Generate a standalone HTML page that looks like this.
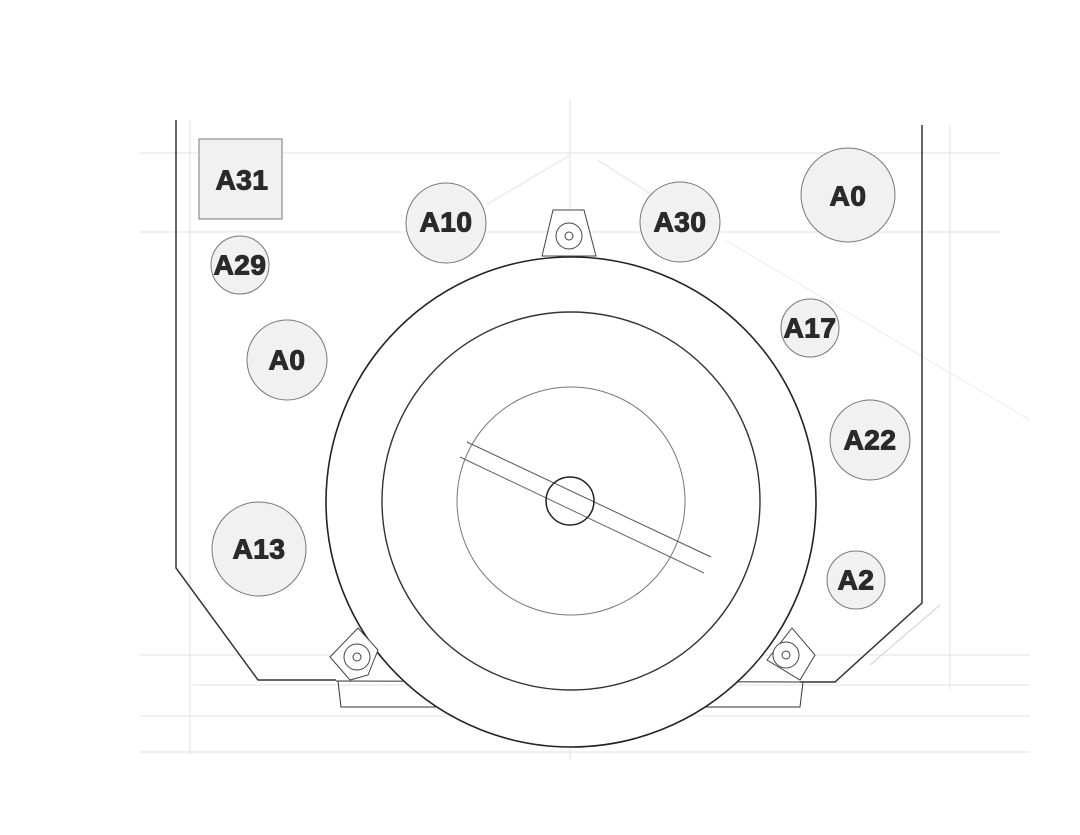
<!DOCTYPE html>
<html><head><meta charset="utf-8"><style>
html,body{margin:0;padding:0;background:#fff;}
svg{display:block}
text{font-family:"Liberation Sans",sans-serif;font-weight:bold;fill:#2a2a2a;stroke:#2a2a2a;stroke-width:1.1;text-anchor:middle;dominant-baseline:central;letter-spacing:0.5px}
</style></head><body>
<svg width="1080" height="835" viewBox="0 0 1080 835" xmlns="http://www.w3.org/2000/svg">
<rect width="1080" height="835" fill="#fff"/>
<g stroke="#e2e2e2" stroke-width="1" fill="none">
<line x1="140" y1="153" x2="1000" y2="153"/>
<line x1="140" y1="232" x2="1000" y2="232"/>
<line x1="140" y1="655" x2="1030" y2="655"/>
<line x1="140" y1="716" x2="1030" y2="716"/>
<line x1="140" y1="752" x2="1030" y2="752"/>
<line x1="190" y1="120" x2="190" y2="755"/>
<line x1="950" y1="125" x2="950" y2="690"/>
<line x1="570" y1="100" x2="570" y2="760"/>
<line x1="193" y1="685" x2="1030" y2="685"/>
<line x1="486" y1="205" x2="570" y2="155"/>
<line x1="598" y1="160" x2="660" y2="200"/>
<line x1="725" y1="240" x2="1030" y2="420" stroke="#ececec"/>
<line x1="870" y1="665" x2="940" y2="605" stroke="#d0d0d0"/>
</g>
<g stroke="#333" stroke-width="1.5" fill="none">
<polyline points="176,120 176,568 258,680 336,680"/>
<polyline points="922,125 922,603 835,682 800,682"/>
<line x1="336" y1="681" x2="800" y2="682" stroke-width="1"/>
<polyline points="338,681 341,707 800,707 803,682" stroke-width="1"/>
</g>
<circle cx="571" cy="502" r="245" fill="#fff" stroke="#222" stroke-width="1.6"/>
<circle cx="571" cy="501" r="189" fill="none" stroke="#333" stroke-width="1.4"/>
<circle cx="571" cy="501" r="114" fill="none" stroke="#777" stroke-width="1"/>
<line x1="467" y1="442" x2="711" y2="557" stroke="#555" stroke-width="1"/>
<line x1="460" y1="457" x2="704" y2="573" stroke="#666" stroke-width="1"/>
<circle cx="570" cy="501" r="24" fill="none" stroke="#222" stroke-width="1.5"/>
<g stroke="#444" stroke-width="1" fill="#fff">
<polygon points="553,210 584,210 596,256 542,256"/>
<circle cx="569" cy="236" r="13"/><circle cx="569" cy="236" r="4"/>
<polygon points="330,657 358,628 378,650 368,675 350,680"/>
<circle cx="357" cy="657" r="13"/><circle cx="357" cy="657" r="4"/>
<polygon points="767,660 792,628 815,655 800,680"/>
<circle cx="786" cy="655" r="13"/><circle cx="786" cy="655" r="4"/>
</g>
<g fill="#f1f1f1" stroke="#777" stroke-width="1">
<rect x="199" y="139" width="83" height="80"/>
<circle cx="446" cy="223" r="40"/>
<circle cx="680" cy="222" r="40"/>
<circle cx="848" cy="195" r="47"/>
<circle cx="240" cy="265" r="29"/>
<circle cx="810" cy="328" r="29"/>
<circle cx="287" cy="360" r="40"/>
<circle cx="870" cy="440" r="40"/>
<circle cx="259" cy="549" r="47"/>
<circle cx="856" cy="580" r="29"/>
</g>
<g font-size="28">
<text x="242" y="180">A31</text>
<text x="446" y="222">A10</text>
<text x="680" y="222">A30</text>
<text x="848" y="196">A0</text>
<text x="240" y="265">A29</text>
<text x="810" y="328">A17</text>
<text x="287" y="360">A0</text>
<text x="870" y="440">A22</text>
<text x="259" y="549">A13</text>
<text x="856" y="580">A2</text>
</g>
</svg>
</body></html>
